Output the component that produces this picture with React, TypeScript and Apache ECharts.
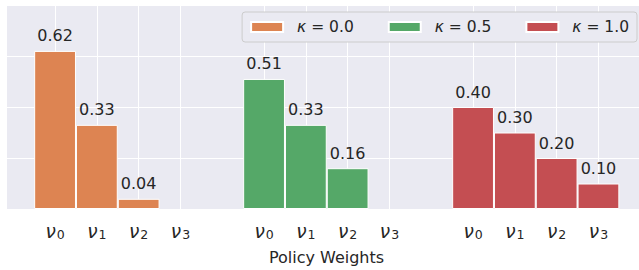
import React, { useEffect, useRef } from "react";
import * as echarts from "echarts";

// ---- data ----
const weightIndices = ["0", "1", "2", "3"];
const seriesNames = ["κ = 0.0", "κ = 0.5", "κ = 1.0"];
const kappa00 = [0.62, 0.33, 0.04]; // ν3 is 0 (no bar)
const kappa05 = [0.51, 0.33, 0.16]; // ν3 is 0 (no bar)
const kappa10 = [0.4, 0.3, 0.2, 0.1];
const groupStarts = [0, 5, 10];
const xAxisTitle = "Policy Weights";

const FONT = "DejaVu Sans";
const TEXT = "#262626";
const BG = "#EAEAF2";
const COLORS = ["#DD8452", "#55A868", "#C44E52"];

export default function App() {
  const ref = useRef<HTMLDivElement>(null);
  useEffect(() => {
    if (!ref.current) return;
    const chart = echarts.init(ref.current, undefined, { renderer: "svg" });
    const allValues = [kappa00, kappa05, kappa10];
    const tickPositions: number[] = [];
    groupStarts.forEach((g) => weightIndices.forEach((_, i) => tickPositions.push(g + i)));

    const series = allValues.map((vals, si) => ({
      type: "bar",
      name: seriesNames[si],
      data: vals.map((v, i) => [groupStarts[si] + i, v]),
      barWidth: 41.8,
      barGap: "-100%",
      itemStyle: { color: COLORS[si], borderColor: "#ffffff", borderWidth: 1 },
      label: {
        show: true,
        position: "top",
        distance: 7,
        formatter: (p: any) => p.value[1].toFixed(2),
        fontSize: 16,
        fontFamily: FONT,
        color: TEXT,
      },
    }));

    chart.setOption({
      animation: false,
      textStyle: { fontFamily: FONT, color: TEXT },
      grid: {
        left: 7,
        right: 0,
        top: 5,
        bottom: 59,
        show: true,
        backgroundColor: BG,
        borderWidth: 0,
      },
      legend: {
        right: 2,
        top: 12,
        itemWidth: 32,
        itemHeight: 10,
        itemGap: 34,
        padding: [7, 8, 7, 8],
        backgroundColor: BG,
        borderColor: "#CCCCCC",
        borderWidth: 1,
        borderRadius: 3,
        icon: "rect",
        data: seriesNames,
        formatter: (name: string) => `{k|κ} = ${name.split("= ")[1]}`,
        textStyle: {
          fontSize: 15.5,
          fontFamily: FONT,
          color: TEXT,
          padding: [0, 0, 0, 9],
          rich: {
            k: { fontSize: 15.5, fontFamily: FONT, fontStyle: "italic", color: TEXT },
          },
        },
      },
      xAxis: {
        type: "value",
        min: -1.15,
        max: 13.97,
        axisLine: { show: false },
        axisTick: { show: false, customValues: tickPositions },
        splitLine: { show: true, lineStyle: { color: "#ffffff", width: 1 } },
        axisLabel: {
          customValues: tickPositions,
          margin: 12,
          formatter: (v: number) => {
            const idx = tickPositions.indexOf(Math.round(v)) % weightIndices.length;
            return `{v|ν}{s|${weightIndices[idx]}}`;
          },
          rich: {
            v: { fontSize: 18.5, fontStyle: "italic", fontFamily: FONT, color: TEXT },
            s: { fontSize: 12.5, fontFamily: FONT, color: TEXT, padding: [7, 0, 0, 1] },
          },
        },
        name: xAxisTitle,
        nameLocation: "middle",
        nameGap: 40,
        nameTextStyle: { fontSize: 16, fontFamily: FONT, color: TEXT, padding: [0, 0, 0, 7] },
      },
      yAxis: {
        type: "value",
        min: 0,
        max: 0.8,
        interval: 0.2,
        axisLine: { show: false },
        axisTick: { show: false },
        axisLabel: { show: false },
        splitLine: { show: true, lineStyle: { color: "#ffffff", width: 1 } },
      },
      series,
    });
    return () => chart.dispose();
  }, []);
  return (
    <div
      ref={ref}
      style={{ position: "absolute", left: 0, top: 0, width: 639, height: 270, background: "#ffffff" }}
    />
  );
}
